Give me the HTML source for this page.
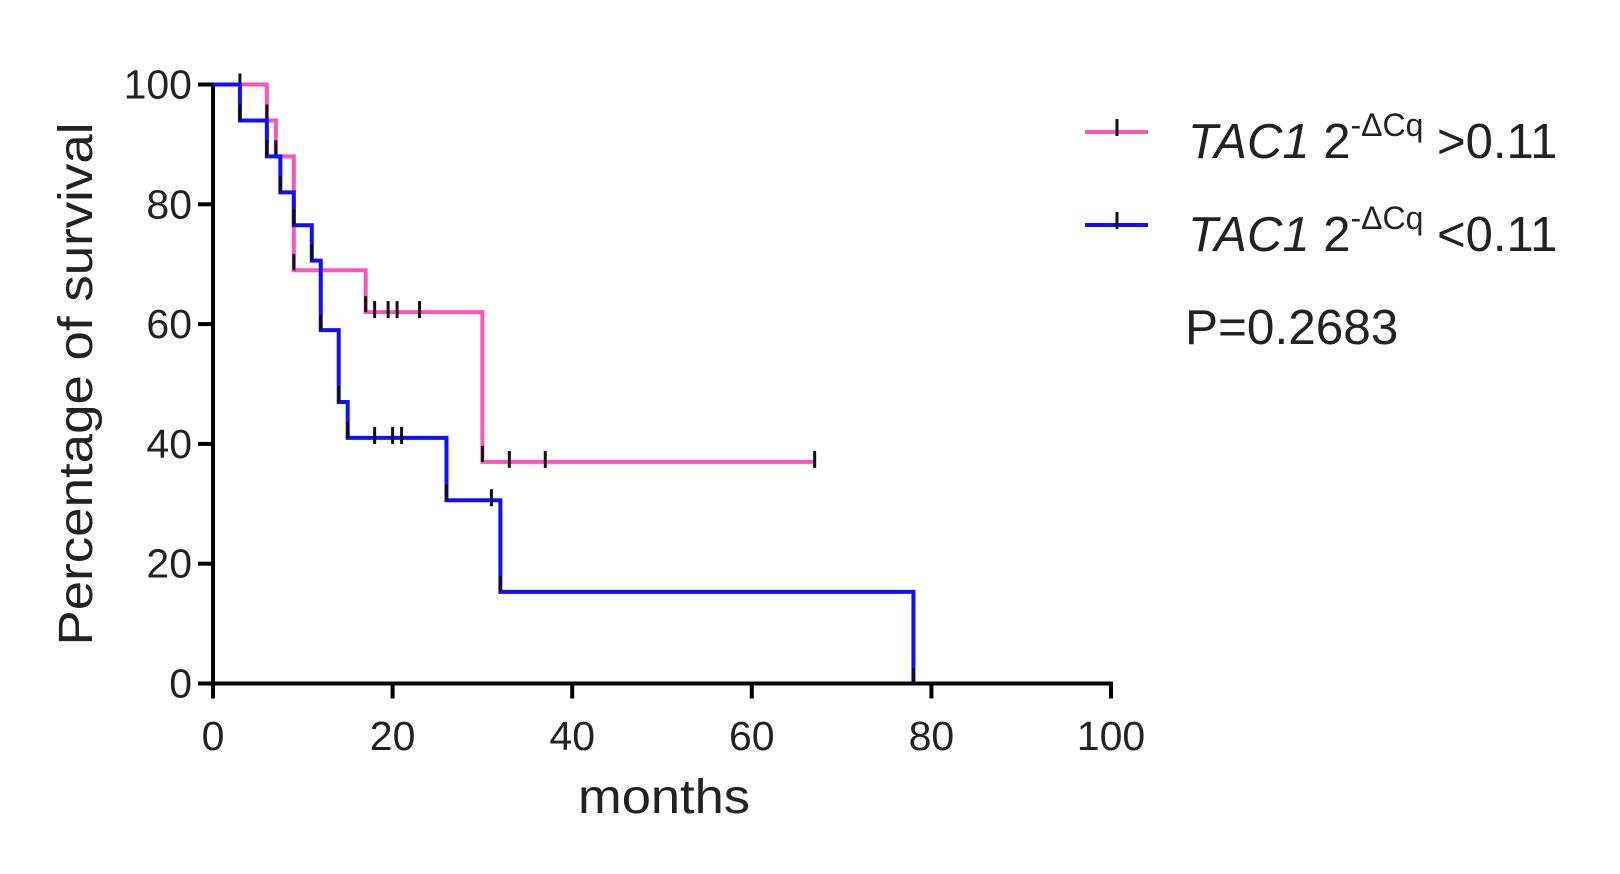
<!DOCTYPE html>
<html><head><meta charset="utf-8"><style>
body{margin:0;background:#fff;}
svg text{font-family:"Liberation Sans",Arial,sans-serif;fill:#222;}
</style></head><body>
<svg id="chart" width="1620" height="869" viewBox="0 0 1620 869">
<g id="axes"></g><g id="series"></g>
<g>
 <g>
  <line x1="1085" y1="132" x2="1148" y2="132" stroke="#ff55bb" stroke-width="4"/>
  <line x1="1117" y1="119" x2="1117" y2="136" stroke="#111" stroke-width="3"/>
  <text x="1188" y="158" font-size="49"><tspan font-style="italic">TAC1</tspan> 2<tspan dy="-22" font-size="32">-ΔCq</tspan><tspan dy="22"> &gt;0.11</tspan></text>
 </g>
 <g>
  <line x1="1085" y1="225" x2="1148" y2="225" stroke="#1010ff" stroke-width="4"/>
  <line x1="1117" y1="212" x2="1117" y2="229" stroke="#111" stroke-width="3"/>
  <text x="1188" y="251" font-size="49"><tspan font-style="italic">TAC1</tspan> 2<tspan dy="-22" font-size="32">-ΔCq</tspan><tspan dy="22"> &lt;0.11</tspan></text>
 </g>
 <text x="1185" y="344" font-size="49.5">P=0.2683</text>
</g>
<text x="578" y="813" font-size="48" textLength="172" lengthAdjust="spacingAndGlyphs">months</text>
<text transform="translate(92,384) rotate(-90)" font-size="48" text-anchor="middle" textLength="523" lengthAdjust="spacingAndGlyphs">Percentage of survival</text>
</svg>
<script>
const xTicks=[0,20,40,60,80,100];
const yTicks=[0,20,40,60,80,100];
const highTimes=[0,6,7,9,17,30];
const highSurv=[100,94,88,69,62,37];
const highEnd=67;
const highCensor=[3,18,19.5,20.5,23,33,37,67];
const lowTimes=[0,3,6,7.5,9,11,12,14,15,26,32,78];
const lowSurv=[100,94,88,82,76.5,70.6,59,47,41,30.6,15.3,0];
const lowEnd=78;
const lowCensor=[18,20,21,31];
const X=v=>213+v*8.98, Y=v=>683.5-v*5.99;
const NS='http://www.w3.org/2000/svg';
function mk(tag,attrs,parent){const e=document.createElementNS(NS,tag);for(const k in attrs)e.setAttribute(k,attrs[k]);parent.appendChild(e);return e;}
const ax=document.getElementById('axes');
let a=mk('line',{x1:X(0),y1:Y(0),x2:X(100)+2,y2:Y(0),stroke:'#000','stroke-width':4},ax);


a=mk('line',{x1:X(0),y1:Y(0)+2,x2:X(0),y2:Y(100),stroke:'#000','stroke-width':4},ax);


xTicks.forEach(t=>{const l=mk('line',{x1:X(t),y1:Y(0),x2:X(t),y2:Y(0)+15,stroke:'#000','stroke-width':4},ax);


const tx=mk('text',{x:X(t),y:750,'font-size':41,'text-anchor':'middle'},ax);tx.textContent=t;

});
yTicks.forEach(t=>{const l=mk('line',{x1:X(0)-15,y1:Y(t),x2:X(0),y2:Y(t),stroke:'#000','stroke-width':4},ax);


const tx=mk('text',{x:192,y:Y(t)+14,'font-size':41,'text-anchor':'end'},ax);tx.textContent=t;

});
const sg=document.getElementById('series');
function survAt(times,surv,t){let s=surv[0];for(let i=0;i<times.length;i++)if(times[i]<=t)s=surv[i];return s;}
function draw(times,surv,end,cens,color,name){
 let d='M'+X(times[0])+','+Y(surv[0]);
 for(let i=1;i<times.length;i++){d+=' H'+X(times[i])+' V'+Y(surv[i]);}
 d+=' H'+X(end);
 const p=mk('path',{d:d,fill:'none',stroke:color,'stroke-width':4},sg);
 
 
 for(let i=1;i<times.length;i++){const y=Y(surv[i]);
  const m=mk('line',{x1:X(times[i]),y1:y-16,x2:X(times[i]),y2:y,stroke:'#111','stroke-width':3},sg);
  
  }
 cens.forEach(c=>{const y=Y(survAt(times,surv,c));
  const m=mk('line',{x1:X(c),y1:y-11,x2:X(c),y2:y+6,stroke:'#111','stroke-width':3},sg);
  
  });
}
draw(highTimes,highSurv,highEnd,highCensor,'#ff55bb','high-group');
draw(lowTimes,lowSurv,lowEnd,lowCensor,'#1010ff','low-group');
</script>
</body></html>
